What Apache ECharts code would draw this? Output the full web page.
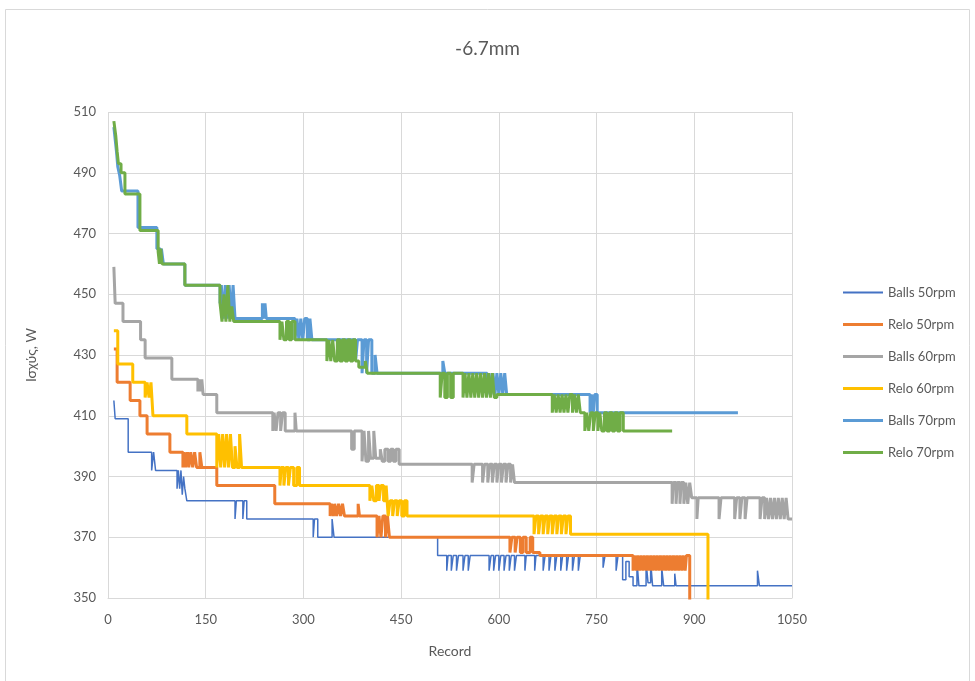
<!DOCTYPE html>
<html>
<head>
<meta charset="utf-8">
<script src="https://cdn.jsdelivr.net/npm/echarts@6/dist/echarts.min.js"></script>
<style>
html,body{margin:0;padding:0;background:#fff;}
#chart{width:975px;height:681px;}
</style>
</head>
<body>
<div id="chart"></div>
<script>
const chartTitle = '-6.7mm';
const xAxisTitle = 'Record';
const yAxisTitle = 'Ισχύς, W';
const seriesNames = ['Balls 50rpm','Relo 50rpm','Balls 60rpm','Relo 60rpm','Balls 70rpm','Relo 70rpm'];

const balls50 = [[9,415],[11,409],[31,398],[67,392],[70,398],[73,392],[106,386],[108,392],[110,386],[112,392],[114,384],[116,390],[118,386],[121,382],
[195,376],[197,382],[207,376],[209,382],[213,376],[315,370],[317,376],[322,370],[344,376],[347,370],
[506,364],[520,359],[522,364],[527,359],[530,364],[535,359],[538,364],[545,359],[548,364],[553,359],[556,364],[585,359],[588,364],[592,359],[595,364],[600,359],[603,364],[608,359],[611,364],[616,359],[619,364],[624,359],[627,364],[640,359],[642,364],[655,359],[657,364],[668,359],[671,364],[677,359],[680,364],[686,359],[689,364],[695,359],[698,364],[704,359],[707,364],[713,359],[716,364],[722,359],[725,364],
[760,360],[763,364],[780,359],[783,364],[790,356],[795,362],[800,357],[806,354],[812,362],[815,354],[826,362],[829,355],[833,362],[836,354],[850,360],[853,354],[870,358],[872,354],[997,359],[1000,354],[1050,354]];

const relo50 = [[9,432],[14,421],[34,415],[49,410],[60,404],[95,398],[115,393],[117,398],[119,393],[122,398],[124,393],[127,398],[130,393],[133,398],[136,393],[141,398],[144,393],[167,387],[256,381],
[341,377],[343,381],[346,377],[348,381],[351,377],[354,381],[357,377],[360,381],[363,377],[384,381],[386,377],
[413,370],[416,377],[419,370],[422,377],[426,370],[429,377],[432,370],
[617,365],[620,370],[625,365],[628,370],[633,365],[637,370],[642,365],[648,370],[652,365],[663,364],
[806,359],[808,364],[811,359],[813,364],[816,359],[818,364],[821,359],[823,364],[826,359],[828,364],[831,359],[833,364],[836,359],[838,364],[841,359],[843,364],[846,359],[848,364],[851,359],[853,364],[856,359],[858,364],[861,359],[863,364],[866,359],[868,364],[871,359],[873,364],[876,359],[878,364],[881,359],[883,364],[886,359],[888,364],[893,330]];

const balls60 = [[9,459],[11,447],[23,441],[50,435],[57,429],[98,422],[138,418],[140,422],[142,418],[144,422],[146,417],[167,411],
[253,405],[255,411],[258,405],[261,411],[265,405],[268,411],[272,405],[287,411],[289,405],
[374,399],[378,405],[390,395],[393,405],[396,395],[400,405],[403,396],[408,405],[411,396],[418,399],[421,395],[425,399],[430,395],[434,399],[438,395],[442,399],[447,394],
[559,388],[562,394],[575,388],[578,394],[583,388],[586,394],[590,388],[593,394],[597,388],[600,394],[604,388],[607,394],[611,388],[614,394],[618,388],[621,394],[624,388],
[866,381],[868,388],[872,381],[874,388],[878,381],[880,388],[884,381],[887,388],[890,381],[893,388],[896,383],
[904,376],[906,383],[938,376],[941,383],[962,376],[965,383],[970,376],[973,383],[978,376],[981,383],[1001,376],[1004,383],[1008,376],[1011,383],[1014,376],[1017,383],[1020,376],[1023,383],[1026,376],[1029,383],[1032,376],[1035,383],[1038,376],[1041,383],[1044,376],[1050,376]];

const relo60 = [[9,438],[15,427],[38,421],[57,416],[60,421],[63,416],[66,421],[69,410],[121,404],
[167,393],[170,404],[173,393],[176,404],[179,393],[182,404],[185,393],[188,404],[191,393],[195,400],[198,393],[202,404],[205,393],
[264,387],[266,393],[270,387],[273,393],[277,387],[280,393],[285,387],[290,393],[294,387],
[402,382],[405,387],[408,382],[412,387],[416,382],[419,387],[423,382],[427,387],[430,377],[433,382],[437,377],[440,382],[444,377],[447,382],[451,377],[455,382],[459,377],
[654,371],[657,377],[661,371],[664,377],[668,371],[671,377],[675,371],[678,377],[682,371],[685,377],[689,371],[692,377],[696,371],[699,377],[703,371],[706,377],[710,371],[921,330]];

const balls70 = [[9,505],[11,501],[13,497],[15,492],[18,489],[21,484],[46,472],[75,465],[80,460],[82,465],[85,460],[118,453],
[172,447],[174,453],[177,442],[180,453],[183,442],[186,453],[189,442],[192,453],[195,442],[237,447],[239,442],[241,447],[243,442],
[287,435],[290,442],[293,435],[296,442],[299,435],[302,442],[306,435],[310,442],[313,435],
[380,428],[383,435],[390,424],[393,435],[397,424],[400,435],[405,424],[410,430],[413,424],[514,428],[517,424],
[582,417],[585,424],[588,417],[591,424],[594,417],[597,424],[600,417],[603,424],[606,417],[609,424],[612,417],
[740,411],[742,417],[745,411],[747,417],[751,411],[967,411]];

const relo70 = [[9,507],[12,502],[14,497],[16,493],[20,490],[26,483],[49,471],[77,464],[79,460],[81,465],[83,460],[118,453],
[172,447],[175,441],[178,450],[181,441],[184,453],[187,441],[190,446],[193,441],
[264,435],[267,441],[270,435],[274,441],[278,435],[282,441],[287,435],
[336,428],[339,435],[342,428],[345,435],[348,428],[352,435],[356,428],[360,435],[364,428],[368,435],[372,428],[376,435],[380,428],[385,426],[395,428],[398,424],
[510,416],[513,424],[517,416],[521,424],[526,416],[530,424],
[545,416],[548,424],[551,416],[554,424],[557,416],[560,424],[563,416],[566,424],[569,416],[572,424],[575,416],[578,424],[581,416],[584,424],[587,416],[590,424],[593,416],[597,417],
[682,411],[685,417],[688,411],[691,417],[694,411],[697,417],[700,411],[703,417],[706,411],[709,417],[713,411],[716,417],[719,411],[722,417],[725,411],
[732,405],[735,411],[738,405],[741,411],[745,405],[748,411],[752,405],[755,411],[758,405],[762,411],[766,405],[770,411],[774,405],[778,411],[782,405],[786,411],[791,405],[866,405]];

const seriesData = [balls50, relo50, balls60, relo60, balls70, relo70];
const colors = ['#4472C4','#ED7D31','#A5A5A5','#FFC000','#5B9BD5','#70AD47'];
const widths = [1.5, 3, 3, 3, 3, 3];

const FONT = 'Lato, "Noto Sans", "DejaVu Sans", sans-serif';
const chart = echarts.init(document.getElementById('chart'));
chart.setOption({
  animation: false,
  backgroundColor: '#ffffff',
  color: colors,
  textStyle: { fontFamily: FONT },
  title: {
    text: chartTitle, left: 'center', top: 34,
    textStyle: { fontSize: 19, fontWeight: 'normal', color: '#595959', fontFamily: FONT }
  },
  graphic: [{
    type: 'rect', silent: true, z: -10,
    shape: { x: 5.5, y: 9.5, width: 964, height: 690 },
    style: { fill: 'none', stroke: '#D9D9D9', lineWidth: 1 }
  }],
  grid: { left: 108, right: 183, top: 112, bottom: 83, containLabel: false },
  legend: {
    orient: 'vertical', left: 838, top: 281,
    itemWidth: 40, itemHeight: 3, itemGap: 19, icon: 'rect',
    textStyle: { fontSize: 13, color: '#595959', fontFamily: FONT },
    data: seriesNames.map((n, i) => ({ name: n, icon: i === 0 ? 'path://M0,0.5H40V2.5H0Z' : 'rect' }))
  },
  xAxis: {
    type: 'value', min: 0, max: 1050, interval: 150,
    name: xAxisTitle, nameLocation: 'middle', nameGap: 46,
    nameTextStyle: { fontSize: 14, color: '#595959', fontFamily: FONT },
    axisLine: { show: true, lineStyle: { color: '#D9D9D9' } },
    axisTick: { show: false },
    axisLabel: { fontSize: 13, color: '#595959', margin: 15, fontFamily: FONT, formatter: v => String(v) },
    splitLine: { show: true, lineStyle: { color: '#D9D9D9', width: 1 } }
  },
  yAxis: {
    type: 'value', min: 350, max: 510, interval: 20,
    name: yAxisTitle, nameLocation: 'middle', nameGap: 70, nameRotate: 90,
    nameTextStyle: { fontSize: 14, color: '#595959', fontFamily: FONT },
    axisLine: { show: false },
    axisTick: { show: false },
    axisLabel: { fontSize: 13, color: '#595959', margin: 12, fontFamily: FONT },
    splitLine: { show: true, lineStyle: { color: '#D9D9D9', width: 1 } }
  },
  series: seriesNames.map((n, i) => ({
    name: n, type: 'line', step: 'end', data: seriesData[i],
    showSymbol: false, symbol: 'none', clip: true,
    lineStyle: { width: widths[i], color: colors[i] },
    itemStyle: { color: colors[i] },
    z: 2 + i
  }))
});
</script>
</body>
</html>
